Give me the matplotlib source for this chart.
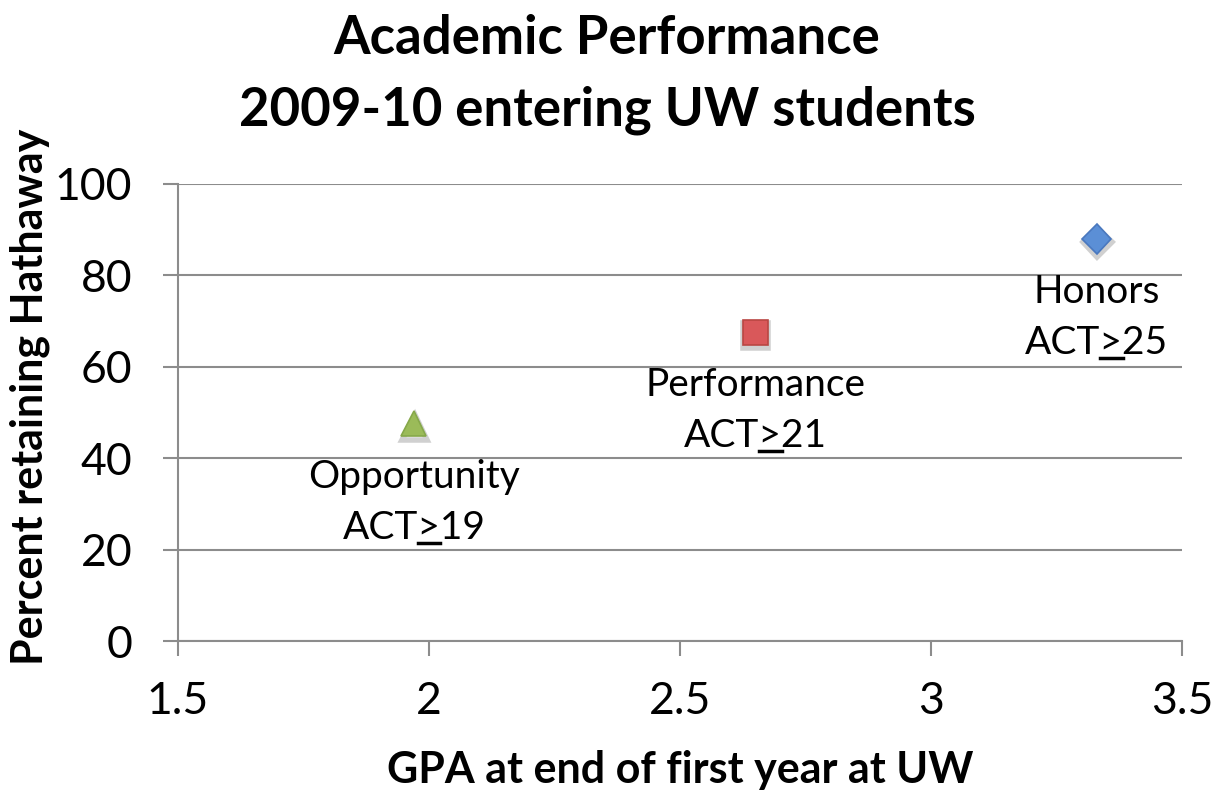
# scatter of Hathaway retention vs first-year GPA

import matplotlib.pyplot as plt
from matplotlib import patheffects as pe
from matplotlib.lines import Line2D

plt.rcParams["font.family"] = ["Lato", "DejaVu Sans"]

groups = ["Opportunity", "Performance", "Honors"]
act_min = ["19", "21", "25"]
gpa = [1.97, 2.65, 3.33]
pct_retained = [47.5, 67.6, 88.0]

markers = ["^", "s", "D"]
fills = ["#9BBB59", "#D9585A", "#5B8FD6"]
edges = ["#86A84A", "#B94643", "#4A78BE"]
sizes = [18, 18, 15]

fig = plt.figure(figsize=(12.14, 7.91), dpi=100)
ax = fig.add_axes([178 / 1214, 1 - 641 / 791, (1182 - 178) / 1214, (641 - 184) / 791])

ax.set_xlim(1.5, 3.5)
ax.set_ylim(0, 100)
ax.set_xticks([1.5, 2, 2.5, 3, 3.5])
ax.set_xticklabels(["1.5", "2", "2.5", "3", "3.5"])
ax.set_yticks([0, 20, 40, 60, 80, 100])

ax.grid(axis="y", color="#8C8C8C", linewidth=1.5)
ax.set_axisbelow(True)
for s in ["top", "right"]:
    ax.spines[s].set_visible(False)
for s in ["left", "bottom"]:
    ax.spines[s].set_color("#8C8C8C")
    ax.spines[s].set_linewidth(1.5)
ax.tick_params(axis="both", colors="#8C8C8C", width=1.5, length=11,
               labelsize=32, labelcolor="black")
ax.tick_params(axis="x", pad=18)
ax.tick_params(axis="y", pad=22)

shadow = [pe.SimpleLineShadow(offset=(0.5, -2.5), shadow_color="#666666", alpha=0.3, linewidth=4),
          pe.Normal()]
act_texts = []
for i in range(len(groups)):
    ax.plot(gpa[i], pct_retained[i], marker=markers[i], markersize=sizes[i],
            markerfacecolor=fills[i], markeredgecolor=edges[i], markeredgewidth=1.2,
            linestyle="none", path_effects=shadow, zorder=3)
    ax.annotate(groups[i], (gpa[i], pct_retained[i]), xytext=(0, -38),
                textcoords="offset points", ha="center", va="center", fontsize=28)
    t = ax.annotate("ACT>" + act_min[i], (gpa[i], pct_retained[i]), xytext=(0, -75),
                    textcoords="offset points", ha="center", va="center", fontsize=28)
    act_texts.append(t)

ax.set_xlabel("GPA at end of first year at UW", fontsize=31, fontweight="bold", labelpad=20)
ax.set_ylabel("Percent retaining Hathaway", fontsize=31, fontweight="bold")
ax.yaxis.set_label_coords(-0.127, 0.534)
fig.suptitle("Academic Performance\n2009-10 entering UW students", fontsize=38,
             fontweight="bold", y=0.982, linespacing=1.55)

# underline the ">" so it reads as "greater or equal", like the original slide
fig.canvas.draw()
r = fig.canvas.get_renderer()
W, H = fig.bbox.width, fig.bbox.height
for t in act_texts:
    bb = t.get_window_extent(r)
    fp = t.get_fontproperties()
    w0, _, _ = r.get_text_width_height_descent("ACT", fp, ismath=False)
    w1, _, _ = r.get_text_width_height_descent("ACT>", fp, ismath=False)
    _, _, lp_d = r.get_text_width_height_descent("lp", fp, ismath=False)
    y = bb.y0 + lp_d - 4
    fig.add_artist(Line2D([(bb.x0 + w0) / W, (bb.x0 + w1) / W], [y / H, y / H],
                          color="black", linewidth=2.5))

fig.savefig("out.png", dpi=100)
